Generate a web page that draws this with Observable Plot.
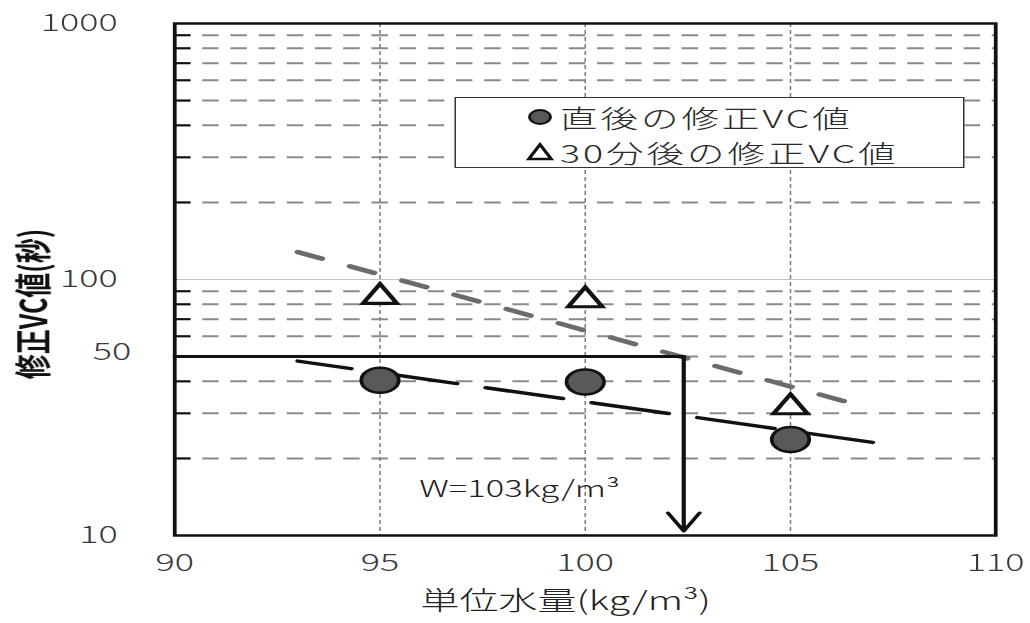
<!DOCTYPE html>
<html>
<head>
<meta charset="utf-8">
<script src="https://cdn.jsdelivr.net/npm/d3@7"></script>
<script src="https://cdn.jsdelivr.net/npm/@observablehq/plot@0.6"></script>
<style>
  html, body { margin: 0; padding: 0; background: #fff; }
  #wrap {
    position: relative; width: 686.667px; height: 623px;
    transform: scaleX(1.5); transform-origin: 0 0;
    font-family: "Noto Sans CJK JP", sans-serif;
  }
  #legend {
    position: absolute; left: 303.3px; top: 97px; width: 339.4px; height: 71px;
    box-sizing: border-box; border: 1.2px solid #333; background: #fff;
  }
  #legend .row { position: absolute; height: 30px; display: flex; align-items: center; }
  #legend .row span { font-size: 25px; font-weight: 300; color: #2a2a2a; letter-spacing: 2px; white-space: nowrap; line-height: 1; }
  #legend .row svg { display: block; margin-right: 3px; }
</style>
</head>
<body>
<div id="wrap"></div>
<script>
// ---- data ----
const waterContent = [95, 100, 105];               // 単位水量 (kg/m3)
const vcImmediate = [40.4, 39.8, 23.7];            // 直後の修正VC値 (s)
const vc30min = [85.5, 83, 31.7];                  // 30分後の修正VC値 (s)
const trendImmediateX = [93, 107];
const trendImmediateY = [48, 23.1];
const trend30minX = [93, 106.6];
const trend30minY = [128, 32.5];
const readoutX = [90, 102.4];                       // VC 50 s -> W read-off
const readoutVC = 50;
const arrowEndVC = 10.4;
const annotationX = [98.4];
const annotationY = [15.13];
const annotationText = ["W=103kg/m³"];
const xTicks = [90, 95, 100, 105, 110];
const yTickLabels = [10, 100, 1000];
const yTickLabelMid = [50];
const yGridMinor = [20, 30, 40, 50, 60, 70, 80, 90, 200, 300, 400, 500, 600, 700, 800, 900];
const yGridMajor = [100];
const xGrid = [95, 100, 105];
const seriesNames = ["直後の修正VC値", "30分後の修正VC値"];
const xLabel = "単位水量(kg/m³)";
const yLabel = "修正VC値(秒)";

// ---- tables built from the arrays ----
const immediatePts = waterContent.map((x, i) => ({x, y: vcImmediate[i]}));
const thirtyPts = waterContent.map((x, i) => ({x, y: vc30min[i]}));
const trendImm = trendImmediateX.map((x, i) => ({x, y: trendImmediateY[i]}));
const trend30 = trend30minX.map((x, i) => ({x, y: trend30minY[i]}));
const readout = readoutX.map(x => ({x, y: readoutVC}));
const arrowData = [{x: readoutX[1], y1: readoutVC, y2: arrowEndVC}];
const annotation = annotationText.map((t, i) => ({x: annotationX[i], y: annotationY[i], t}));

const S = 1.5;
const W = 1030 / S;
const mL = 116, mR = W - 995 / S;
const xDomain = [xTicks[0], xTicks[xTicks.length - 1]];
const pxPerUnit = (W - mL - mR) / (xDomain[1] - xDomain[0]);
const tickLen = 11 / pxPerUnit;   // inward tick length, 11px
const font = '"Noto Sans CJK JP", sans-serif';

const chart = Plot.plot({
  width: W,
  height: 623,
  marginLeft: mL,
  marginRight: mR,
  marginTop: 23,
  marginBottom: 88,
  x: {domain: xDomain, axis: null},
  y: {type: "log", domain: [10, 1000], axis: null},
  style: {fontFamily: font, background: "#fff", overflow: "visible"},
  marks: [
    Plot.ruleY(yGridMinor, {stroke: "#8a8a8a", strokeWidth: 2, strokeDasharray: "11,7.8"}),
    Plot.ruleY(yGridMajor, {stroke: "#c4c4c4", strokeWidth: 1}),
    Plot.ruleX(xGrid, {stroke: "#7a7a7a", strokeWidth: 1, strokeDasharray: "4,3"}),
    Plot.ruleY(yGridMinor, {x1: xDomain[0], x2: xDomain[0] + tickLen, stroke: "#111", strokeWidth: 2}),
    Plot.line(trend30, {x: "x", y: "y", stroke: "#6b6b6b", strokeWidth: 4.5,
      strokeDasharray: "17.2,20.4", strokeLinecap: "round"}),
    Plot.line(trendImm, {x: "x", y: "y", stroke: "#111", strokeWidth: 3.5,
      strokeDasharray: "52.3,19.8", strokeDashoffset: 16, strokeLinecap: "round"}),
    Plot.line(readout, {x: "x", y: "y", stroke: "#111", strokeWidth: 3}),
    Plot.arrow(arrowData, {x: "x", y1: "y1", y2: "y2", stroke: "#111", strokeWidth: 2.8,
      headAngle: 60, headLength: 11.3}),
    Plot.dot(immediatePts, {x: "x", y: "y", r: 12.5, fill: "#595959", stroke: "#111", strokeWidth: 2.5}),
    Plot.dot(thirtyPts, {x: "x", y: "y", r: 8.4, symbol: "triangle", fill: "#fff", stroke: "#111", strokeWidth: 3.2}),
    Plot.frame({stroke: "#111", strokeWidth: 2.5}),
    Plot.text(yTickLabels, {y: d => d, text: d => `${d}`, frameAnchor: "left", dx: -38,
      textAnchor: "end", fontSize: 24, fontWeight: 300, fill: "#3a3a3a"}),
    Plot.text(yTickLabelMid, {y: d => d, text: d => `${d}`, frameAnchor: "left", dx: -29, dy: -4,
      textAnchor: "end", fontSize: 24, fontWeight: 300, fill: "#3a3a3a"}),
    Plot.text(xTicks, {x: d => d, text: d => `${d}`, frameAnchor: "bottom", dy: 36,
      fontSize: 24, fontWeight: 300, fill: "#3a3a3a"}),
    Plot.text([xLabel], {frameAnchor: "bottom", dx: -13, dy: 75, fontSize: 26, fontWeight: 300, fill: "#222"}),
    Plot.text([yLabel], {frameAnchor: "left", rotate: -90, textAnchor: "middle", lineAnchor: "middle",
      dx: -93.3, dy: 24.5, fontSize: 25, fontWeight: "bold", fill: "#111"}),
    Plot.text(annotation, {x: "x", y: "y", text: "t", fontSize: 23, fontWeight: 300, fill: "#222"})
  ]
});

const wrap = document.getElementById("wrap");
wrap.appendChild(chart);

// ---- legend (inside the plot area, as in the reference) ----
const legend = d3.select(wrap).append("div").attr("id", "legend");
const rows = [
  {name: seriesNames[0], top: 4, left: 46, marker: "circle"},
  {name: seriesNames[1], top: 39, left: 46, marker: "triangle"}
];
rows.forEach(r => {
  const row = legend.append("div").attr("class", "row").style("top", r.top + "px").style("left", r.left + "px");
  const svg = row.append("svg").attr("width", 20).attr("height", 20);
  if (r.marker === "circle") {
    svg.append("circle").attr("cx", 10).attr("cy", 10).attr("r", 7)
      .attr("fill", "#595959").attr("stroke", "#111").attr("stroke-width", 1.8);
  } else {
    svg.append("path").attr("d", "M10,2.5L17.5,17L2.5,17Z")
      .attr("fill", "#fff").attr("stroke", "#111").attr("stroke-width", 2.4).attr("stroke-linejoin", "miter");
  }
  row.append("span").text(r.name);
});
</script>
</body>
</html>
